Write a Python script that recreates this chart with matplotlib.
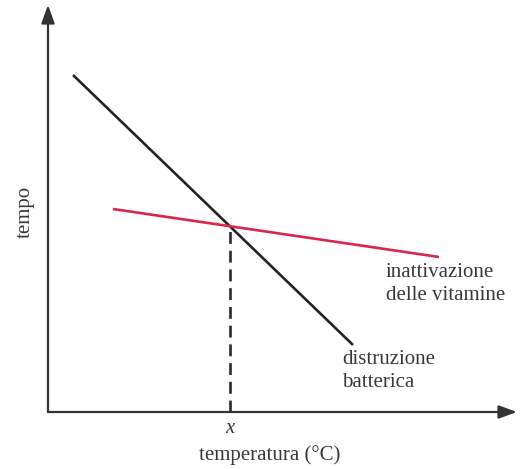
import matplotlib
matplotlib.use("Agg")
import matplotlib.pyplot as plt

# data (arbitrary units; origin at axes crossing)
bact_x = [25, 305]
bact_y = [337, 67]
vit_x = [65, 391]
vit_y = [203, 155]
x_label = "temperatura (°C)"
y_label = "tempo"
bact_label = "distruzione\nbatterica"
vit_label = "inattivazione\ndelle vitamine"

plt.rcParams['font.family'] = ['Liberation Serif', 'DejaVu Serif']

fig = plt.figure(figsize=(5.27, 4.69), dpi=100)
ax = fig.add_axes([0, 0, 1, 1])
ax.set_xlim(-48, 479)
ax.set_ylim(-57, 412)
ax.axis('off')

# axes with arrows
for xy in [(469, 0), (0, 407)]:
    ax.annotate('', xy=xy, xytext=(0, 0),
                arrowprops=dict(arrowstyle='-|>,head_length=1.1,head_width=0.4',
                                color='#333333', lw=1.6, shrinkA=0, shrinkB=0))

# lines
ax.plot(bact_x, bact_y, color='#232323', lw=1.9, solid_capstyle='butt')
ax.plot(vit_x, vit_y, color='#d6284a', lw=1.9, solid_capstyle='butt')

# intersection & dashed drop line
m1 = (bact_y[1] - bact_y[0]) / (bact_x[1] - bact_x[0])
m2 = (vit_y[1] - vit_y[0]) / (vit_x[1] - vit_x[0])
xi = (vit_y[0] - bact_y[0] + m1 * bact_x[0] - m2 * vit_x[0]) / (m1 - m2)
yi = bact_y[0] + m1 * (xi - bact_x[0])
ax.plot([xi, xi], [0, yi], color='#2a2a2a', lw=1.9, ls=(0, (4.5, 2.6)))

txt = '#383838'
ax.text(xi, -16, 'x', style='italic', fontsize=15, color=txt, ha='center', va='center')
ax.text(222, -43, x_label, fontsize=15, color=txt, ha='center', va='center')
ax.text(-23, 200, y_label, fontsize=15, color=txt, ha='center', va='center', rotation=90)
ax.text(294, 41, bact_label, fontsize=15, color=txt, ha='left', va='center', linespacing=1.35)
ax.text(338, 128, vit_label, fontsize=15, color=txt, ha='left', va='center', linespacing=1.35)

fig.savefig('out.png', dpi=100)
